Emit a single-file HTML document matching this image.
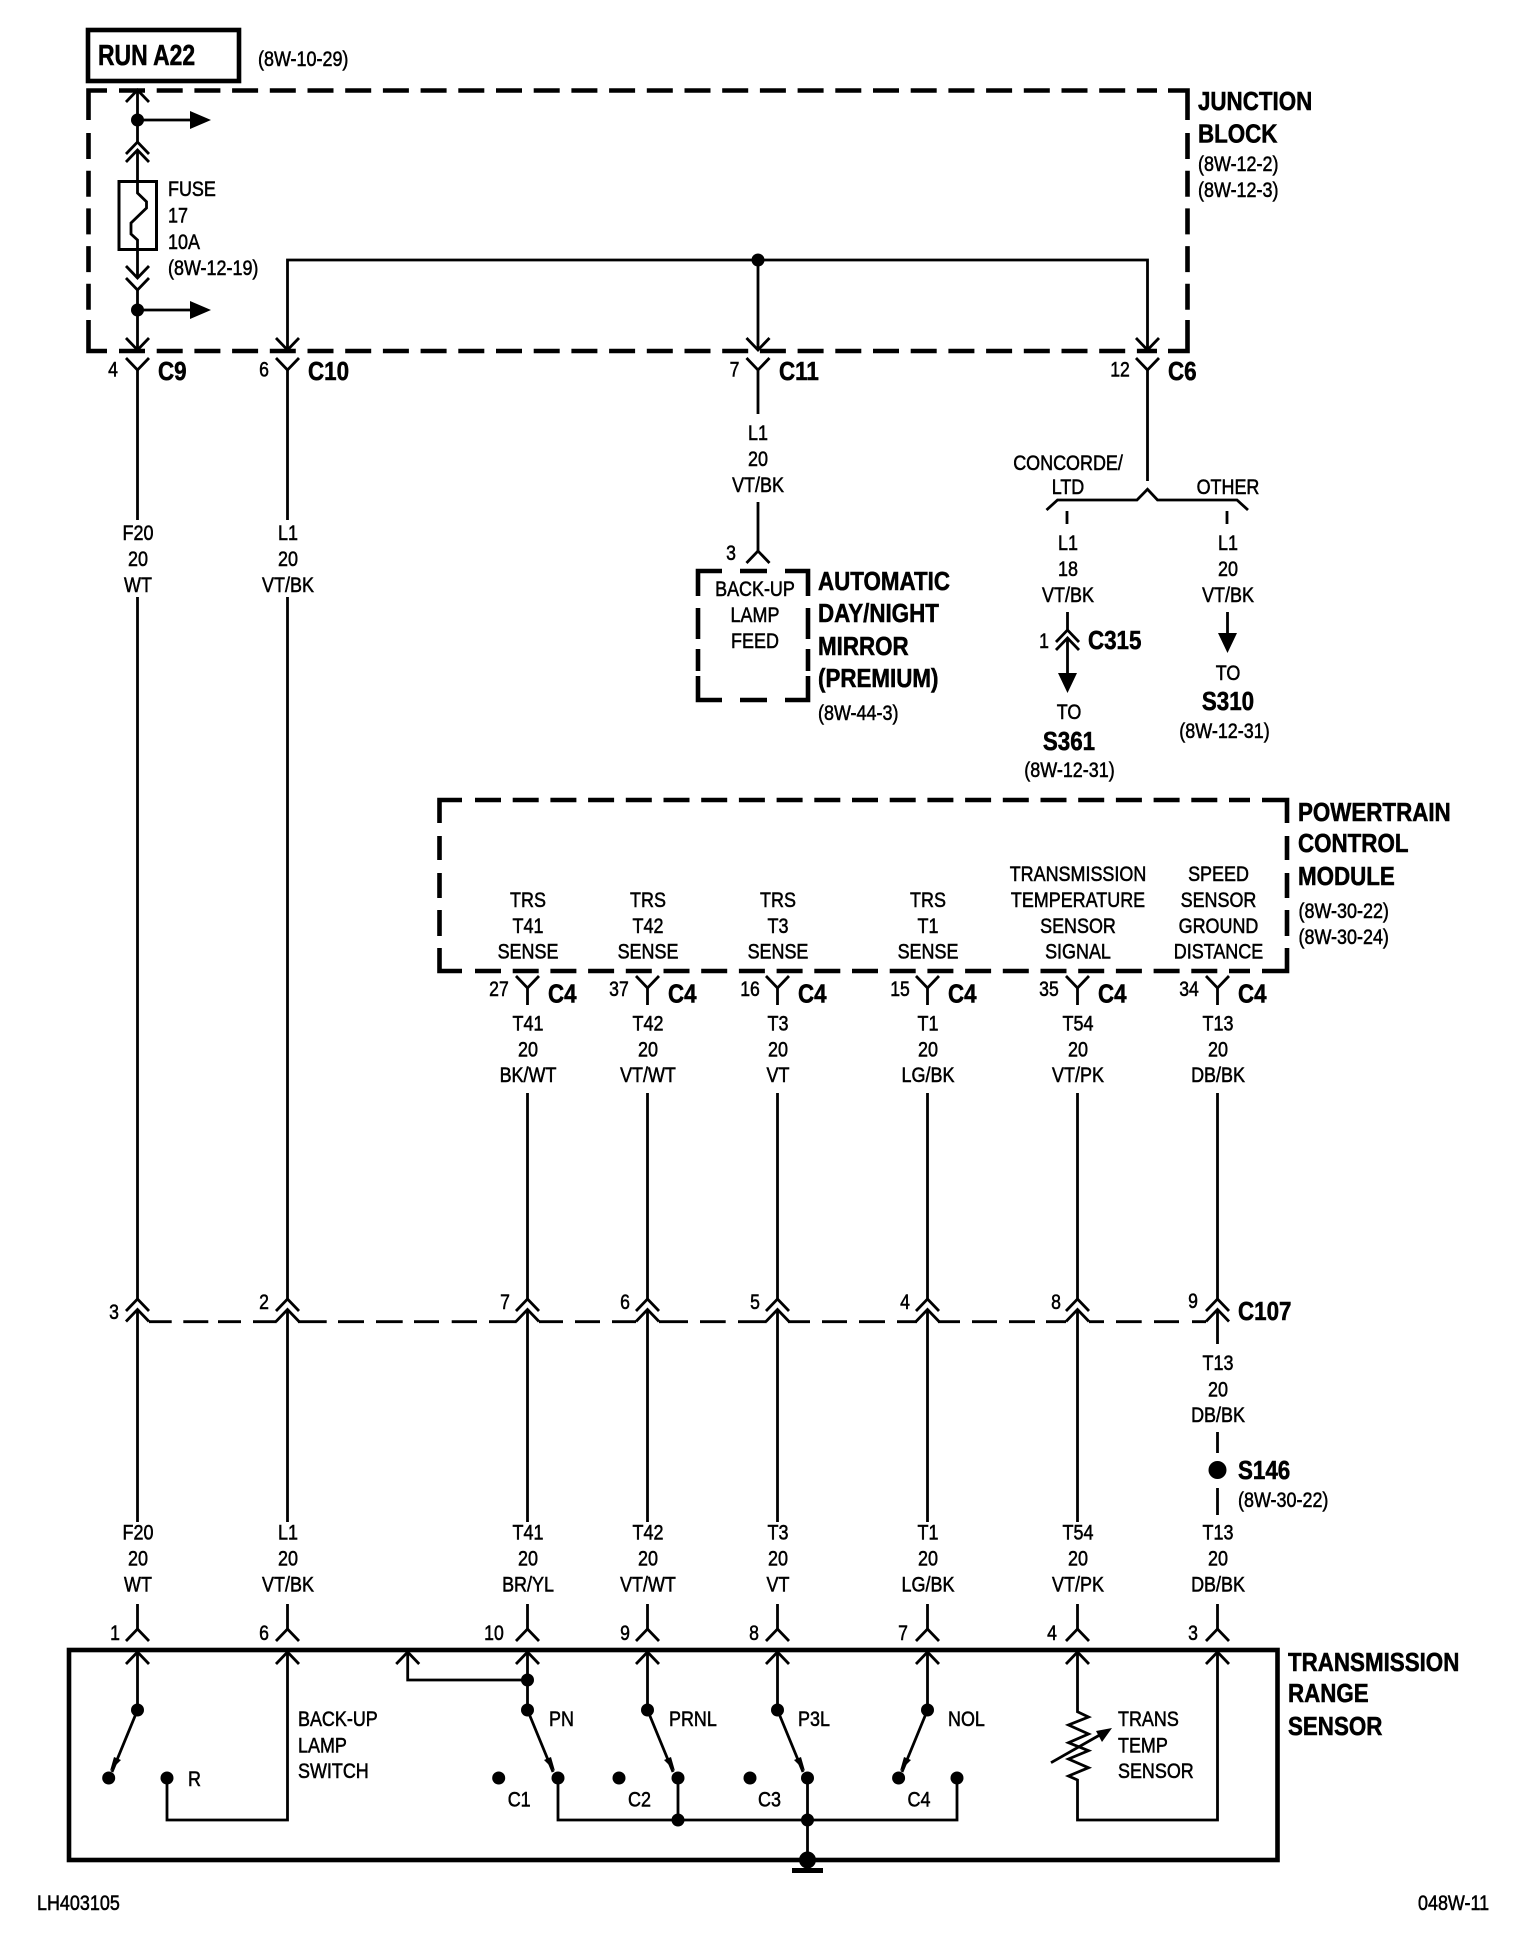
<!DOCTYPE html>
<html><head><meta charset="utf-8">
<style>
html,body{margin:0;padding:0;background:#fff;width:1536px;height:1938px;overflow:hidden}
svg{display:block}
text{font-family:"Liberation Sans",sans-serif;fill:#000;stroke:#000;stroke-width:.55;transform-box:fill-box}
.m{font-size:21.5px;text-anchor:middle;transform-origin:center;transform:scaleX(.835)}
.s{font-size:21.5px;text-anchor:start;transform-origin:left center;transform:scaleX(.835)}
.n{font-size:21.5px;text-anchor:middle;transform-origin:center;transform:scaleX(.82)}
.b{font-size:26px;font-weight:bold;text-anchor:start;transform-origin:left center;transform:scaleX(.86)}
.bm{font-size:26px;font-weight:bold;text-anchor:middle;transform-origin:center;transform:scaleX(.86)}
.w{fill:none;stroke:#000;stroke-width:2.8}
.d{fill:none;stroke:#000;stroke-width:4.6}
.dl{stroke-dasharray:26 11.7}
.dot{fill:#000;stroke:none}
</style></head><body>
<svg xmlns="http://www.w3.org/2000/svg" width="1536" height="1938" viewBox="0 0 1536 1938">
<rect width="1536" height="1938" fill="#fff"/>
<defs>
<path id="u" class="w" d="M-11.5 12L0 0L11.5 12"/>
<path id="v" class="w" d="M-11.5 -12L0 0L11.5 -12"/>
<path id="rt" class="dot" d="M0 -9L21 0L0 9Z"/>
<path id="dn" class="dot" d="M-9.5 0L0 20L9.5 0Z"/>
</defs>

<!-- RUN A22 -->
<rect x="88" y="30" width="151" height="51" fill="none" stroke="#000" stroke-width="4.6"/>
<text class="b" x="98" y="65" style="font-size:29px;transform:scaleX(.79)">RUN A22</text>
<text class="s" x="258" y="66">(8W-10-29)</text>

<!-- Junction block -->
<path class="d" d="M88.5 120V90.5H107"/>
<path class="d" d="M1168 90.5H1187.5V120"/>
<path class="d" d="M1187.5 320V351H1168"/>
<path class="d" d="M107 351H88.5V320"/>
<path class="d dl" d="M119 90.5H1157"/>
<path class="d dl" d="M119 351H1157"/>
<path class="d dl" d="M88.5 133V310"/>
<path class="d dl" d="M1187.5 133V320"/>
<text class="b" x="1198" y="110">JUNCTION</text>
<text class="b" x="1198" y="142.7">BLOCK</text>
<text class="s" x="1198" y="171">(8W-12-2)</text>
<text class="s" x="1198" y="197">(8W-12-3)</text>

<!-- Fuse column -->
<path class="w" d="M137.5 90V142M137.5 150V193L146.5 201.7V208L131 223V234L137.5 240V278M137.5 290V350"/>
<use href="#u" x="137.5" y="90"/>
<use href="#u" x="137.5" y="142"/>
<use href="#u" x="137.5" y="150"/>
<use href="#v" x="137.5" y="278"/>
<use href="#v" x="137.5" y="290"/>
<use href="#v" x="137.5" y="350"/>
<rect x="119" y="181.5" width="37.5" height="68" fill="none" stroke="#000" stroke-width="3"/>
<circle class="dot" cx="137.5" cy="120" r="6.5"/><circle class="dot" cx="137.5" cy="310" r="6.5"/>
<path class="w" d="M137.5 120H192M137.5 310H192"/>
<use href="#rt" x="190" y="120"/><use href="#rt" x="190" y="310"/>
<text class="s" x="168" y="196">FUSE</text>
<text class="s" x="168" y="222.7">17</text>
<text class="s" x="168" y="249">10A</text>
<text class="s" x="168" y="275">(8W-12-19)</text>

<!-- Bus -->
<path class="w" d="M287.5 350V260H1147.5V350M758 260V350"/>
<circle class="dot" cx="758" cy="260" r="6.5"/>
<use href="#v" x="287.5" y="350"/><use href="#v" x="758" y="350"/><use href="#v" x="1147.5" y="350"/>

<!-- top connectors -->
<use href="#v" x="137.5" y="370"/><use href="#v" x="287.5" y="370"/><use href="#v" x="758" y="370"/><use href="#v" x="1147.5" y="370"/>
<text class="n" x="113" y="376.7">4</text><text class="n" x="264" y="376.7">6</text><text class="n" x="734.5" y="376.7">7</text><text class="n" x="1120" y="376.7">12</text>
<text class="b" x="158" y="380">C9</text><text class="b" x="308" y="380">C10</text><text class="b" x="779" y="380">C11</text><text class="b" x="1168" y="380">C6</text>

<!-- left long wires -->
<path class="w" d="M137.5 370V520M287.5 370V520M137.5 597V1299M137.5 1309.5V1522M287.5 597V1299M287.5 1309.5V1522"/>
<text class="m" x="138" y="540">F20</text><text class="m" x="138" y="566">20</text><text class="m" x="138" y="592">WT</text>
<text class="m" x="288" y="540">L1</text><text class="m" x="288" y="566">20</text><text class="m" x="288" y="592">VT/BK</text>

<!-- C11 mirror -->
<path class="w" d="M758 370V414M758 502V551"/>
<text class="m" x="758" y="440">L1</text><text class="m" x="758" y="466">20</text><text class="m" x="758" y="492">VT/BK</text>
<use href="#u" x="758" y="551"/>
<text class="n" x="731" y="560">3</text>
<path class="d" d="M698 596V571H722M785 571H808V596M808 676V700H785M722 700H698V676"/>
<path class="d" d="M740 571H767M698 608V639M698 649V671M808 608V639M808 649V671M740 700H767"/>
<text class="m" x="755" y="596">BACK-UP</text><text class="m" x="755" y="622">LAMP</text><text class="m" x="755" y="648">FEED</text>
<text class="b" x="818" y="590">AUTOMATIC</text><text class="b" x="818" y="622">DAY/NIGHT</text><text class="b" x="818" y="655">MIRROR</text><text class="b" x="818" y="687">(PREMIUM)</text>
<text class="s" x="818" y="720">(8W-44-3)</text>

<!-- C6 split -->
<path class="w" d="M1147.5 370V481M1046.5 510L1057.5 500H1137L1147.5 489.3L1157.5 500H1237L1248 510M1067 511V524M1227 511V524"/>
<text class="m" x="1068" y="470">CONCORDE/</text><text class="m" x="1068" y="494">LTD</text><text class="m" x="1228" y="494">OTHER</text>
<text class="m" x="1068" y="550">L1</text><text class="m" x="1068" y="576">18</text><text class="m" x="1068" y="602">VT/BK</text>
<text class="m" x="1228" y="550">L1</text><text class="m" x="1228" y="576">20</text><text class="m" x="1228" y="602">VT/BK</text>
<path class="w" d="M1067.5 612V630M1067.5 638V675M1227.5 612V635"/>
<use href="#u" x="1067.5" y="630"/><use href="#u" x="1067.5" y="638"/>
<use href="#dn" x="1067.5" y="673"/><use href="#dn" x="1227.5" y="633"/>
<text class="n" x="1044" y="648">1</text><text class="b" x="1088" y="649">C315</text>
<text class="m" x="1069" y="719">TO</text><text class="bm" x="1069" y="750">S361</text><text class="m" x="1069.5" y="777">(8W-12-31)</text>
<text class="m" x="1228" y="680">TO</text><text class="bm" x="1228" y="710">S310</text><text class="m" x="1224.5" y="738">(8W-12-31)</text>

<!-- PCM -->
<path class="d" d="M439.5 823V800H462M1262 800H1287V823M1287 948V971H1262M462 971H439.5V948"/>
<path class="d dl" d="M475 800H1250"/>
<path class="d dl" d="M475 971H1250"/>
<path class="d" d="M439.5 836V860M439.5 873V898M439.5 910V936M1287 836V860M1287 873V898M1287 910V936"/>
<text class="b" x="1298" y="821">POWERTRAIN</text><text class="b" x="1298" y="852">CONTROL</text><text class="b" x="1298" y="885">MODULE</text>
<text class="s" x="1298.5" y="918">(8W-30-22)</text><text class="s" x="1298.5" y="944">(8W-30-24)</text>

<text class="m" x="528" y="907">TRS</text><text class="m" x="528" y="933">T41</text><text class="m" x="528" y="958.5">SENSE</text>
<text class="m" x="648" y="907">TRS</text><text class="m" x="648" y="933">T42</text><text class="m" x="648" y="958.5">SENSE</text>
<text class="m" x="778" y="907">TRS</text><text class="m" x="778" y="933">T3</text><text class="m" x="778" y="958.5">SENSE</text>
<text class="m" x="928" y="907">TRS</text><text class="m" x="928" y="933">T1</text><text class="m" x="928" y="958.5">SENSE</text>
<text class="m" x="1078" y="881">TRANSMISSION</text><text class="m" x="1078" y="907">TEMPERATURE</text><text class="m" x="1078" y="933">SENSOR</text><text class="m" x="1078" y="958.5">SIGNAL</text>
<text class="m" x="1218.5" y="881">SPEED</text><text class="m" x="1218.5" y="907">SENSOR</text><text class="m" x="1218.5" y="933">GROUND</text><text class="m" x="1218.5" y="958.5">DISTANCE</text>

<!-- C4 connectors -->
<g class="w">
<path d="M527.5 988V1005M647.5 988V1005M777.5 988V1005M927.5 988V1005M1077.5 988V1005M1217.5 988V1005"/>
<path d="M527.5 1093V1299M647.5 1093V1299M777.5 1093V1299M927.5 1093V1299M1077.5 1093V1299M1217.5 1093V1299"/>
<path d="M527.5 1309.5V1522M647.5 1309.5V1522M777.5 1309.5V1522M927.5 1309.5V1522M1077.5 1309.5V1522"/>
<path d="M1217.5 1309.5V1344M1217.5 1432V1453M1217.5 1488V1515"/>
</g>
<use href="#v" x="527.5" y="988"/><use href="#v" x="647.5" y="988"/><use href="#v" x="777.5" y="988"/><use href="#v" x="927.5" y="988"/><use href="#v" x="1077.5" y="988"/><use href="#v" x="1217.5" y="988"/>
<text class="n" x="499" y="996">27</text><text class="n" x="619" y="996">37</text><text class="n" x="750" y="996">16</text><text class="n" x="900" y="996">15</text><text class="n" x="1049" y="996">35</text><text class="n" x="1189" y="996">34</text>
<text class="b" x="548" y="1002.5">C4</text><text class="b" x="668" y="1002.5">C4</text><text class="b" x="798" y="1002.5">C4</text><text class="b" x="948" y="1002.5">C4</text><text class="b" x="1098" y="1002.5">C4</text><text class="b" x="1238" y="1002.5">C4</text>

<text class="m" x="528" y="1030.5">T41</text><text class="m" x="528" y="1056.5">20</text><text class="m" x="528" y="1082">BK/WT</text>
<text class="m" x="648" y="1030.5">T42</text><text class="m" x="648" y="1056.5">20</text><text class="m" x="648" y="1082">VT/WT</text>
<text class="m" x="778" y="1030.5">T3</text><text class="m" x="778" y="1056.5">20</text><text class="m" x="778" y="1082">VT</text>
<text class="m" x="928" y="1030.5">T1</text><text class="m" x="928" y="1056.5">20</text><text class="m" x="928" y="1082">LG/BK</text>
<text class="m" x="1078" y="1030.5">T54</text><text class="m" x="1078" y="1056.5">20</text><text class="m" x="1078" y="1082">VT/PK</text>
<text class="m" x="1218" y="1030.5">T13</text><text class="m" x="1218" y="1056.5">20</text><text class="m" x="1218" y="1082">DB/BK</text>

<!-- C107 -->
<path class="w" d="M149 1321.7H171.7M183.3 1321.7H208.3M218 1321.7H241M253 1321.7H276.7M298 1321.7H326.7M338 1321.7H364M376 1321.7H402.7M414 1321.7H439M451.7 1321.7H477M489 1321.7H516.7M539 1321.7H563M575 1321.7H600M612 1321.7H636M659 1321.7H688M700 1321.7H725.7M738 1321.7H766.7M788 1321.7H810M822 1321.7H847M859 1321.7H885M897 1321.7H917M938 1321.7H960M972 1321.7H997M1009 1321.7H1035M1046 1321.7H1066M1089 1321.7H1104M1116 1321.7H1141.7M1154 1321.7H1179M1192 1321.7H1206"/>
<use href="#u" x="137.5" y="1299"/><use href="#u" x="137.5" y="1309.5"/>
<use href="#u" x="287.5" y="1299"/><use href="#u" x="287.5" y="1309.5"/>
<use href="#u" x="527.5" y="1299"/><use href="#u" x="527.5" y="1309.5"/>
<use href="#u" x="647.5" y="1299"/><use href="#u" x="647.5" y="1309.5"/>
<use href="#u" x="777.5" y="1299"/><use href="#u" x="777.5" y="1309.5"/>
<use href="#u" x="927.5" y="1299"/><use href="#u" x="927.5" y="1309.5"/>
<use href="#u" x="1077.5" y="1299"/><use href="#u" x="1077.5" y="1309.5"/>
<use href="#u" x="1217.5" y="1299"/><use href="#u" x="1217.5" y="1309.5"/>
<text class="n" x="114" y="1319">3</text><text class="n" x="264" y="1309">2</text><text class="n" x="505" y="1309">7</text><text class="n" x="625" y="1309">6</text><text class="n" x="755" y="1309">5</text><text class="n" x="905" y="1309">4</text><text class="n" x="1056" y="1309">8</text><text class="n" x="1193" y="1308">9</text>
<text class="b" x="1238" y="1320">C107</text>
<text class="m" x="1218" y="1370">T13</text><text class="m" x="1218" y="1396.5">20</text><text class="m" x="1218" y="1422">DB/BK</text>
<circle class="dot" cx="1217.5" cy="1470" r="9"/>
<text class="b" x="1238" y="1479">S146</text><text class="s" x="1238" y="1507">(8W-30-22)</text>

<!-- lower labels -->
<text class="m" x="138" y="1539.5">F20</text><text class="m" x="138" y="1565.5">20</text><text class="m" x="138" y="1591.5">WT</text>
<text class="m" x="288" y="1539.5">L1</text><text class="m" x="288" y="1565.5">20</text><text class="m" x="288" y="1591.5">VT/BK</text>
<text class="m" x="528" y="1539.5">T41</text><text class="m" x="528" y="1565.5">20</text><text class="m" x="528" y="1591.5">BR/YL</text>
<text class="m" x="648" y="1539.5">T42</text><text class="m" x="648" y="1565.5">20</text><text class="m" x="648" y="1591.5">VT/WT</text>
<text class="m" x="778" y="1539.5">T3</text><text class="m" x="778" y="1565.5">20</text><text class="m" x="778" y="1591.5">VT</text>
<text class="m" x="928" y="1539.5">T1</text><text class="m" x="928" y="1565.5">20</text><text class="m" x="928" y="1591.5">LG/BK</text>
<text class="m" x="1078" y="1539.5">T54</text><text class="m" x="1078" y="1565.5">20</text><text class="m" x="1078" y="1591.5">VT/PK</text>
<text class="m" x="1218" y="1539.5">T13</text><text class="m" x="1218" y="1565.5">20</text><text class="m" x="1218" y="1591.5">DB/BK</text>

<!-- bottom connectors -->
<path class="w" d="M137.5 1604V1629M287.5 1604V1629M527.5 1604V1629M647.5 1604V1629M777.5 1604V1629M927.5 1604V1629M1077.5 1604V1629M1217.5 1604V1629"/>
<use href="#u" x="137.5" y="1629"/><use href="#u" x="287.5" y="1629"/><use href="#u" x="527.5" y="1629"/><use href="#u" x="647.5" y="1629"/><use href="#u" x="777.5" y="1629"/><use href="#u" x="927.5" y="1629"/><use href="#u" x="1077.5" y="1629"/><use href="#u" x="1217.5" y="1629"/>
<use href="#u" x="137.5" y="1652"/><use href="#u" x="287.5" y="1652"/><use href="#u" x="407.7" y="1652"/><use href="#u" x="527.5" y="1652"/><use href="#u" x="647.5" y="1652"/><use href="#u" x="777.5" y="1652"/><use href="#u" x="927.5" y="1652"/><use href="#u" x="1077.5" y="1652"/><use href="#u" x="1217.5" y="1652"/>
<text class="n" x="115" y="1640">1</text><text class="n" x="264" y="1640">6</text><text class="n" x="494" y="1640">10</text><text class="n" x="625" y="1640">9</text><text class="n" x="754" y="1640">8</text><text class="n" x="903" y="1640">7</text><text class="n" x="1052" y="1640">4</text><text class="n" x="1193" y="1640">3</text>

<!-- TRS box -->
<rect x="69" y="1650" width="1208.5" height="210" fill="none" stroke="#000" stroke-width="4.6"/>
<text class="b" x="1288" y="1671">TRANSMISSION</text><text class="b" x="1288" y="1702">RANGE</text><text class="b" x="1288" y="1735">SENSOR</text>

<!-- circuits -->
<path class="w" d="M137.5 1652V1710M287.5 1652V1820H167V1778M407.7 1652V1680H527.5M527.5 1652V1710M647.5 1652V1710M777.5 1652V1710M927.5 1652V1710M558 1778V1820H957V1778M678 1778V1820M807.5 1778V1860"/>
<path class="w" d="M1077.5 1652V1711.7L1088.5 1717L1068.5 1725L1088.5 1734L1068.5 1742.7L1088.5 1750.7L1068.5 1759L1088.5 1767.7L1068.5 1776L1077.5 1780V1820H1217.5V1652"/>
<path class="w" d="M1051 1762.7L1105 1732"/>
<path class="dot" d="M1112 1728L1096 1731L1102 1742Z"/>
<g class="dot">
<circle cx="137.5" cy="1710" r="6.5"/><circle cx="108.7" cy="1778" r="6.5"/><circle cx="167" cy="1778" r="6.5"/>
<circle cx="527.5" cy="1680" r="6.5"/><circle cx="527.5" cy="1710" r="6.5"/><circle cx="498.7" cy="1778" r="6.5"/><circle cx="558" cy="1778" r="6.5"/>
<circle cx="647.5" cy="1710" r="6.5"/><circle cx="619" cy="1778" r="6.5"/><circle cx="678" cy="1778" r="6.5"/>
<circle cx="777.5" cy="1710" r="6.5"/><circle cx="750" cy="1778" r="6.5"/><circle cx="807.5" cy="1778" r="6.5"/>
<circle cx="927.5" cy="1710" r="6.5"/><circle cx="898.6" cy="1778" r="6.5"/><circle cx="957" cy="1778" r="6.5"/>
<circle cx="678" cy="1820" r="6.5"/><circle cx="807.5" cy="1820" r="6.5"/>
<circle cx="807.5" cy="1860" r="8.5"/>
<rect x="792" y="1868" width="31" height="5"/>
</g>
<path class="w" d="M137.5 1710L112 1772M927.5 1710L902 1772M527.5 1710L553 1772M647.5 1710L673 1772M777.5 1710L803 1772"/>
<path class="dot" d="M110 1771L114 1757L121 1760ZM900 1771L904 1757L911 1760ZM555 1771L544 1760L551 1757ZM675 1771L664 1760L671 1757ZM805 1771L794 1760L801 1757Z"/>
<text class="s" x="188" y="1786">R</text>
<text class="s" x="298" y="1726">BACK-UP</text><text class="s" x="298" y="1752.7">LAMP</text><text class="s" x="298" y="1778">SWITCH</text>
<text class="s" x="549" y="1726">PN</text><text class="s" x="669" y="1726">PRNL</text><text class="s" x="798" y="1726">P3L</text><text class="s" x="948" y="1726">NOL</text>
<text class="s" x="507.7" y="1806.7">C1</text><text class="s" x="628" y="1806.7">C2</text><text class="s" x="758" y="1806.7">C3</text><text class="s" x="907.5" y="1806.7">C4</text>
<text class="s" x="1118" y="1726">TRANS</text><text class="s" x="1118" y="1752.7">TEMP</text><text class="s" x="1118" y="1778">SENSOR</text>

<text class="s" x="37" y="1910">LH403105</text>
<text class="s" x="1418" y="1910">048W-11</text>
</svg>
</body></html>
